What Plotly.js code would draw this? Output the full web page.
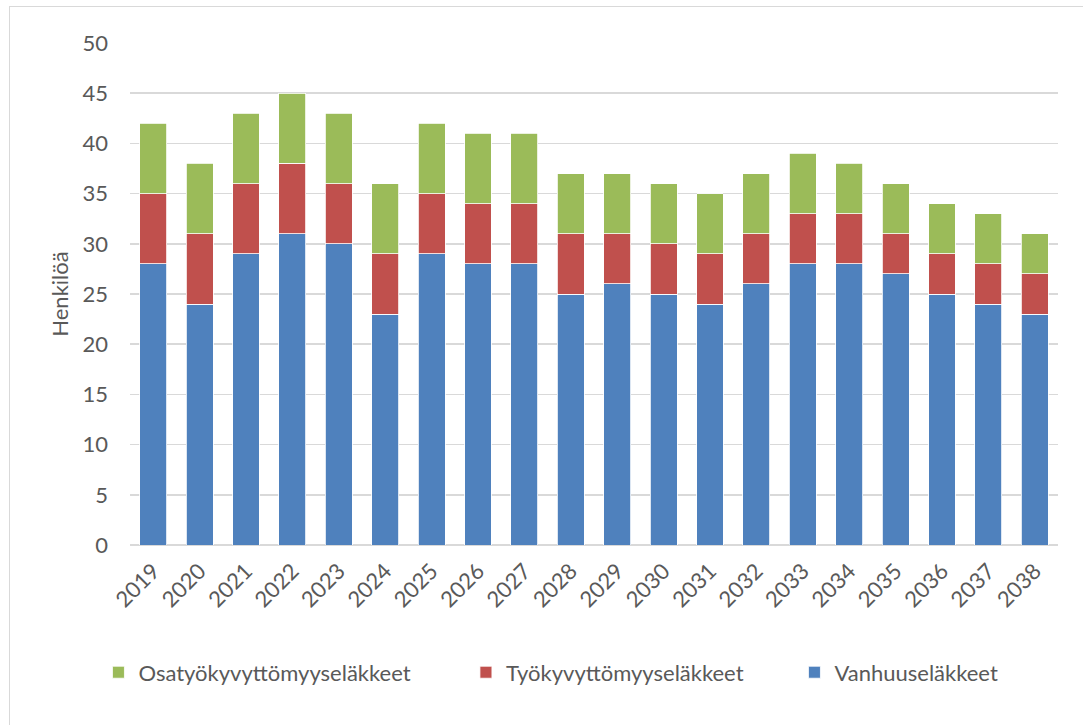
<!DOCTYPE html>
<html>
<head>
<meta charset="utf-8">
<script src="https://cdn.plot.ly/plotly-3.0.1.min.js"></script>
<style>
html,body{margin:0;padding:0;background:#fff;}
#frame{position:absolute;left:9px;top:6px;width:1100px;height:730px;border-left:1px solid #d9d9d9;border-top:1px solid #d9d9d9;}
#chart{position:absolute;left:0;top:0;width:1083px;height:725px;}
</style>
</head>
<body>
<div id="frame"></div>
<div id="chart"></div>
<script>
const years = ['2019','2020','2021','2022','2023','2024','2025','2026','2027','2028','2029','2030','2031','2032','2033','2034','2035','2036','2037','2038'];
const vanhuus = [28,24,29,31,30,23,29,28,28,25,26,25,24,26,28,28,27,25,24,23];
const tyokyv = [7,7,7,7,6,6,6,6,6,6,5,5,5,5,5,5,4,4,4,4];
const osatyo = [7,7,7,7,7,7,7,7,7,6,6,6,6,6,6,5,5,5,5,4];
const yTicks = [0,5,10,15,20,25,30,35,40,45,50];

const font = 'Lato, "Open Sans", sans-serif';
const txt = '#595959';
const line = {color:'#ffffff', width:0.8};
const traces = [
  {type:'bar', name:'Vanhuuseläkkeet', x:years, y:vanhuus, marker:{color:'#4F81BD', line:line}, legend:'legend3'},
  {type:'bar', name:'Työkyvyttömyyseläkkeet', x:years, y:tyokyv, marker:{color:'#C0504D', line:line}, legend:'legend2'},
  {type:'bar', name:'Osatyökyvyttömyyseläkkeet', x:years, y:osatyo, marker:{color:'#9BBB59', line:line}, legend:'legend'}
];
function leg(x){
  return {orientation:'h', x:x, xanchor:'left', y:-0.212, yanchor:'top',
          font:{size:22, color:txt}, itemwidth:30, bgcolor:'rgba(0,0,0,0)'};
}
const layout = {
  width:1083, height:725,
  paper_bgcolor:'rgba(0,0,0,0)', plot_bgcolor:'rgba(0,0,0,0)',
  margin:{l:130, r:25, t:43, b:180},
  barmode:'stack', bargap:0.42,
  font:{family:font, color:txt, size:22},
  xaxis:{type:'category', tickangle:-45, tickfont:{size:22, color:txt}, showgrid:false, ticks:'', showline:false, zeroline:false, ticklabelstandoff:8},
  yaxis:{range:[0,50], tickvals:yTicks, ticktext:yTicks.map(String), tickfont:{size:22, color:txt},
         gridcolor:'#d9d9d9', gridwidth:1.5, zeroline:true, zerolinecolor:'#d9d9d9', zerolinewidth:1.5,
         showline:false, ticks:'', ticklen:0, ticklabelstandoff:21,
         title:{text:'Henkilöä', font:{size:22, color:txt}, standoff:7}},
  legend:leg(-0.034),
  legend2:leg(0.362),
  legend3:leg(0.716),
  showlegend:true
};
Plotly.newPlot('chart', traces, layout, {displayModeBar:false, staticPlot:true});
</script>
</body>
</html>
